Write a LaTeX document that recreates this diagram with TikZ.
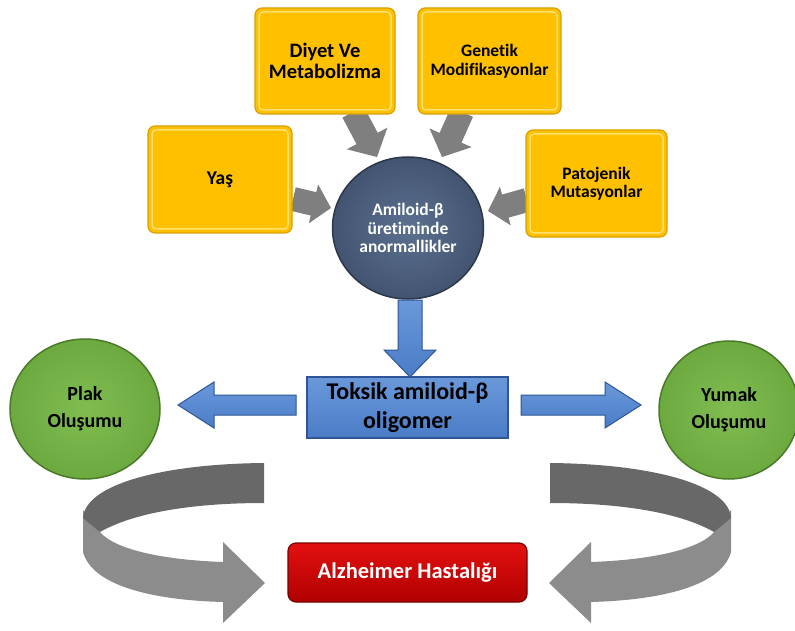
\documentclass[tikz,border=0pt]{standalone}
\usepackage{fontspec}
\setmainfont{Carlito}[Ligatures=NoCommon]
\usetikzlibrary{calc,shapes.geometric}
\definecolor{ymain}{HTML}{FFC000}
\definecolor{yedge}{HTML}{D9A000}
\definecolor{ylight}{HTML}{FFE070}
\definecolor{cin}{HTML}{5C7090}
\definecolor{cout}{HTML}{425470}
\definecolor{cedge}{HTML}{2C3849}
\definecolor{bmain}{HTML}{4A7CC6}
\definecolor{btop}{HTML}{6A98DA}
\definecolor{bedge}{HTML}{2F5597}
\definecolor{gin}{HTML}{80BC50}
\definecolor{gout}{HTML}{6CAA40}
\definecolor{gedge}{HTML}{4A7A2A}
\definecolor{rtop}{HTML}{E31010}
\definecolor{rbot}{HTML}{B00000}
\definecolor{redge}{HTML}{7A0000}
\definecolor{grayarrow}{HTML}{7F7F7F}
\definecolor{grayback}{HTML}{686868}
\definecolor{grayfront}{HTML}{8C8C8C}
\newcommand\blockarrow[6]{%
  \coordinate (ba-h) at ($(#2)!#5!(#1)$);
  \path[#6] ($(#1)!#3!90:(#2)$) -- ($(ba-h)!#3!90:(#2)$) -- ($(ba-h)!#4!90:(#2)$) -- (#2)
    -- ($(ba-h)!#4!-90:(#2)$) -- ($(ba-h)!#3!-90:(#2)$) -- ($(#1)!#3!-90:(#2)$) -- cycle;}
\newcommand\curvedband{%
  \path[fill=grayfront] (83,510) -- (83,552) .. controls (92,585) and (150,600) .. (223,602)
    -- (223,623) -- (265,583) -- (223,542) -- (223,562)
    .. controls (165,560) and (115,550) .. (100,532) -- cycle;
  \path[fill=grayback] (264,463) .. controls (160,464) and (85,485) .. (83,518)
    -- (100,532) .. controls (135,512) and (195,503) .. (264,503) -- cycle;}
\begin{document}
\begin{tikzpicture}[x=1pt,y=-1pt,
  ybox/.style={draw=yedge, line width=1.2pt, fill=ymain, rounded corners=7pt, inner sep=0pt,
    align=center, text=black,
    path picture={\draw[ylight, line width=1.5pt, rounded corners=4pt]
      ([shift={(4pt,-4pt)}]path picture bounding box.north west) rectangle
      ([shift={(-4pt,4pt)}]path picture bounding box.south east);}},
  hub/.style={ellipse, draw=cedge, line width=1.5pt, inner color=cin, outer color=cout,
    minimum width=151pt, minimum height=142pt, inner sep=0pt, align=center, text=white},
  gcirc/.style={ellipse, draw=gedge, line width=1.5pt, inner color=gin, outer color=gout,
    inner sep=0pt, align=center, text=black},
  bluebox/.style={draw=bedge, line width=1.2pt, top color=btop, bottom color=bmain,
    inner sep=0pt, align=center, text=black},
  redbox/.style={draw=redge, line width=1.2pt, top color=rtop, bottom color=rbot,
    rounded corners=8pt, inner sep=0pt, align=center, text=white},
  grayarr/.style={fill=grayarrow},
  bluearr/.style={draw=bedge, line width=1pt, top color=btop, bottom color=bmain}]
\useasboundingbox[fill=white] (0,0) rectangle (795,631);

% coordinates for arrows
\coordinate (a1t) at (293,199); \coordinate (a1h) at (331,208);
\coordinate (a2t) at (353,112); \coordinate (a2h) at (377,157);
\coordinate (a3t) at (462,112); \coordinate (a3h) at (442,157);
\coordinate (a4t) at (527,200); \coordinate (a4h) at (488,211);
\coordinate (b1t) at (410,300); \coordinate (b1h) at (410,377);
\coordinate (b2t) at (296,405); \coordinate (b2h) at (178,405);
\coordinate (b3t) at (521,405); \coordinate (b3h) at (641,405);

\blockarrow{a1t}{a1h}{12pt}{20pt}{18pt}{grayarr}
\blockarrow{a2t}{a2h}{12pt}{23pt}{21pt}{grayarr}
\blockarrow{a3t}{a3h}{12pt}{23pt}{21pt}{grayarr}
\blockarrow{a4t}{a4h}{12pt}{20pt}{18pt}{grayarr}

\node[ybox, minimum width=140pt, minimum height=106pt, font=\bfseries\fontsize{20.5}{21.5}\selectfont]
  (diyet) at (325,61) {Diyet Ve\\Metabolizma};
\node[ybox, minimum width=143pt, minimum height=106pt, font=\bfseries\fontsize{17.5}{18.5}\selectfont]
  (genetik) at (489.5,61) {Genetik\\Modifikasyonlar};
\node[ybox, minimum width=144pt, minimum height=107pt, font=\bfseries\fontsize{19.5}{21}\selectfont]
  (yas) at (220,179.5) {Yaş};
\node[ybox, minimum width=141pt, minimum height=107pt, font=\bfseries\fontsize{17.5}{18.5}\selectfont]
  (pato) at (596.5,183.5) {Patojenik\\Mutasyonlar};

\node[hub, font=\bfseries\fontsize{17.5}{18.5}\selectfont] (hub) at (408,228)
  {Amiloid-β\\üretiminde\\anormallikler};

\blockarrow{b1t}{b1h}{12pt}{26pt}{27pt}{bluearr}
\blockarrow{b2t}{b2h}{10pt}{23pt}{36pt}{bluearr}
\blockarrow{b3t}{b3h}{10pt}{23pt}{36pt}{bluearr}

\node[bluebox, minimum width=201pt, minimum height=61pt, font=\bfseries\fontsize{24}{29}\selectfont]
  (toksik) at (407.5,407.5) {Toksik amiloid-β\\oligomer};

\node[gcirc, minimum width=150pt, minimum height=140pt, font=\bfseries\fontsize{20}{27}\selectfont]
  (plak) at (85,409) {Plak\\Oluşumu};
\node[gcirc, minimum width=140pt, minimum height=138pt, font=\bfseries\fontsize{20}{27}\selectfont]
  (yumak) at (729,410) {Yumak\\Oluşumu};

\curvedband
\begin{scope}[xshift=814pt, xscale=-1]
  \curvedband
\end{scope}

\node[redbox, minimum width=239pt, minimum height=59pt, font=\bfseries\fontsize{22.5}{24}\selectfont]
  (alz) at (407.5,572.5) {Alzheimer Hastalığı};
\end{tikzpicture}
\end{document}
